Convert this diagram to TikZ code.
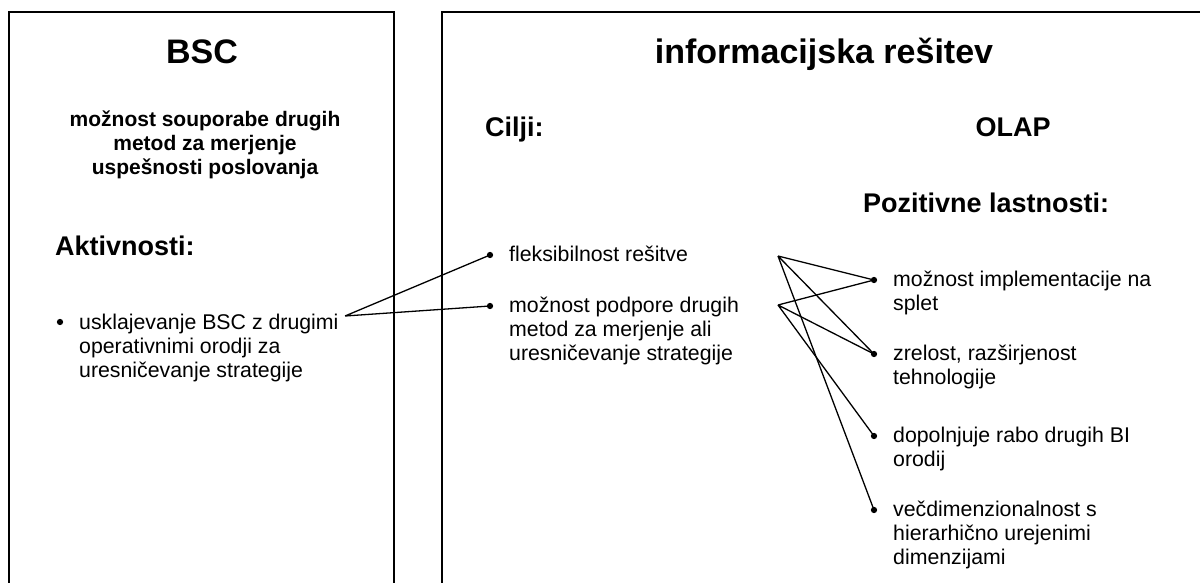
\documentclass[tikz,border=0pt]{standalone}
\usepackage{fontspec}
\setmainfont{Liberation Sans}
\begin{document}
\begin{tikzpicture}[x=1pt,y=-1pt,
  frame/.style={line width=2pt},
  conn/.style={line width=1.3pt},
  dot/.style={circle,fill=black,inner sep=0pt,minimum size=6.3pt},
  title/.style={font=\bfseries\fontsize{34}{40}\selectfont, inner sep=0pt, anchor=base},
  head/.style={font=\bfseries\fontsize{27}{32}\selectfont, inner sep=0pt, anchor=base west},
  item/.style={font=\fontsize{21.3}{24}\selectfont, inner sep=0pt, anchor=base west, align=left},
]
\useasboundingbox (0,0) rectangle (1200,582);
\clip (0,0) rectangle (1200,582);
% frames
\draw[frame] (9,600) -- (9,12) -- (394,12) -- (394,600);
\draw[frame] (442,600) -- (442,12) -- (1220,12) -- (1220,600);
% titles (base anchor of a multi-line node = baseline of its last line)
\node[title] (bsc) at (202,63) {BSC};
\node[title] (info) at (824,63) {informacijska rešitev};
\node[font=\bfseries\fontsize{21}{24}\selectfont, align=center, anchor=base, inner sep=0pt] (sub) at (205,174) {možnost souporabe drugih\\metod za merjenje\\uspešnosti poslovanja};
% headings
\node[head] (akt) at (55,255) {Aktivnosti:};
\node[head] (cilji) at (485,136) {Cilji:};
\node[head, anchor=base] (olap) at (1013,136) {OLAP};
\node[head] (poz) at (863,212) {Pozitivne lastnosti:};
% BSC item
\node[dot] (ad) at (60,322) {};
\node[item] (at) at (79,377) {usklajevanje BSC z drugimi\\operativnimi orodji za\\uresničevanje strategije};
\coordinate (aend) at (345,316);
% Cilji items
\node[dot] (c1d) at (490,255) {};
\node[item] (c1t) at (509,261) {fleksibilnost rešitve};
\node[dot] (c2d) at (490,306) {};
\node[item] (c2t) at (509,360) {možnost podpore drugih\\metod za merjenje ali\\uresničevanje strategije};
\coordinate (p1) at (778,256);
\coordinate (p2) at (778,305);
% OLAP items
\node[dot] (o1d) at (874,280) {};
\node[item] (o1t) at (893,310) {možnost implementacije na\\splet};
\node[dot] (o2d) at (874,354) {};
\node[item] (o2t) at (893,384) {zrelost, razširjenost\\tehnologije};
\node[dot] (o3d) at (874,436) {};
\node[item] (o3t) at (893,466) {dopolnjuje rabo drugih BI\\orodij};
\node[dot] (o4d) at (874,510) {};
\node[item] (o4t) at (893,564) {večdimenzionalnost s\\hierarhično urejenimi\\dimenzijami};
% connectors
\draw[conn] (aend) -- (c1d.center) (aend) -- (c2d.center);
\draw[conn] (p1) -- (o1d.center) (p1) -- (o2d.center) (p1) -- (o4d.center);
\draw[conn] (p2) -- (o1d.center) (p2) -- (o2d.center) (p2) -- (o3d.center);
\end{tikzpicture}
\end{document}
